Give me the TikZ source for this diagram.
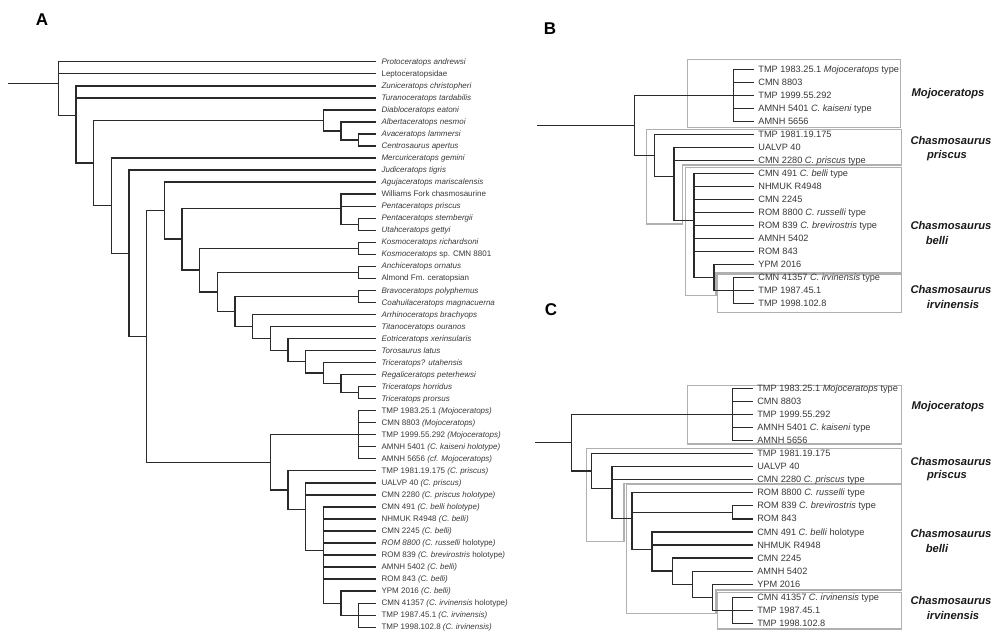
\documentclass[tikz,border=0pt]{standalone}
\usepackage{fontspec}
\setmainfont{Liberation Sans}
\usetikzlibrary{calc}
\definecolor{ink}{HTML}{2A2A2A}
\definecolor{txt}{HTML}{383838}
\definecolor{boxc}{HTML}{B0B0B0}
\newcommand\clade[3]{%
  \gdef\bary{}%
  \foreach \ch [count=\n] in {#3}{\ifnum\n=1 \xdef\bary{\ch=1}\else\xdef\bary{\bary,\ch=1}\fi}%
  \edef\tmpcmd{\noexpand\coordinate (tmp) at (barycentric cs:\bary);}%
  \tmpcmd
  \coordinate (#1) at (#2 |- tmp);
  \foreach \ch in {#3}{\draw[br] (#1) |- (\ch);}%
}
\begin{document}
\begin{tikzpicture}[x=1pt,y=-1pt,
  br/.style={line width=1.3pt,draw=ink},
  boxline/.style={line width=1.15pt,draw=boxc},
  tipA/.style={anchor=west,inner sep=0pt,xshift=5pt,font=\fontsize{8}{9}\selectfont,text=txt,text height=6.3pt,text depth=1pt},
  tipB/.style={anchor=west,inner sep=0pt,xshift=4.5pt,font=\fontsize{9.2}{10}\selectfont,text=txt,text height=7.2pt,text depth=1.1pt},
  cladelab/.style={inner sep=0pt,font=\fontsize{11.2}{12}\selectfont\bfseries\itshape,text=black!90},
  panel/.style={inner sep=0pt,font=\fontsize{17}{17}\selectfont\bfseries}]
\useasboundingbox (0,0) rectangle (1000,640);

% panel letters
\node[panel] (PA) at (42,20) {A};
\node[panel] (PB) at (550,29) {B};
\node[panel] (PC) at (551,310) {C};

% ---------- level coordinates ----------
\foreach \k in {0,...,18} \coordinate (xA\k) at ({58.3+17.67*\k},0);
\foreach \k in {0,...,6} \coordinate (xB\k) at ({634.3+19.9*\k},0);
\foreach \k in {0,...,9} \coordinate (xC\k) at ({571.7+20.1*\k},0);

% ---------- boxes (B) ----------
\draw[boxline] (687.3,59.3) rectangle (900.7,127.7);
\draw[boxline] (646.7,129.3) -- (901.7,129.3) -- (901.7,165) -- (682.3,165) -- (682.3,224) -- (646.7,224) -- cycle;
\draw[boxline] (685.7,167.3) -- (901.7,167.3) -- (901.7,272.3) -- (716,272.3) -- (716,295.7) -- (685.7,295.7) -- cycle;
\draw[boxline] (717.7,274) rectangle (901.7,312.3);
% ---------- boxes (C) ----------
\draw[boxline] (687.3,385.7) rectangle (901.7,444);
\draw[boxline] (586.7,448.3) -- (901.7,448.3) -- (901.7,483.3) -- (624,483.3) -- (624,541.7) -- (586.7,541.7) -- cycle;
\draw[boxline] (626.7,484.7) -- (901.7,484.7) -- (901.7,590) -- (716,590) -- (716,613.3) -- (626.7,613.3) -- cycle;
\draw[boxline] (717.7,592.3) rectangle (901.7,629);

% ---------- panel A tips ----------
\foreach \i/\t in {1/\textit{Protoceratops andrewsi},
 2/Leptoceratopsidae,
 3/\textit{Zuniceratops christopheri},
 4/\textit{Turanoceratops tardabilis},
 5/\textit{Diabloceratops eatoni},
 6/\textit{Albertaceratops nesmoi},
 7/\textit{Avaceratops lammersi},
 8/\textit{Centrosaurus apertus},
 9/\textit{Mercuriceratops gemini},
 10/\textit{Judiceratops tigris},
 11/\textit{Agujaceratops mariscalensis},
 12/Williams Fork chasmosaurine,
 13/\textit{Pentaceratops priscus},
 14/\textit{Pentaceratops sternbergii},
 15/\textit{Utahceratops gettyi},
 16/\textit{Kosmoceratops richardsoni},
 17/\textit{Kosmoceratops} sp. CMN 8801,
 18/\textit{Anchiceratops ornatus},
 19/Almond Fm. ceratopsian,
 20/\textit{Bravoceratops polyphemus},
 21/\textit{Coahuilaceratops magnacuerna},
 22/\textit{Arrhinoceratops brachyops},
 23/\textit{Titanoceratops ouranos},
 24/\textit{Eotriceratops xerinsularis},
 25/\textit{Torosaurus latus},
 26/\textit{Triceratops? utahensis},
 27/\textit{Regaliceratops peterhewsi},
 28/\textit{Triceratops horridus},
 29/\textit{Triceratops prorsus},
 30/TMP 1983.25.1 \textit{(Mojoceratops)},
 31/CMN 8803 \textit{(Mojoceratops)},
 32/TMP 1999.55.292 \textit{(Mojoceratops)},
 33/AMNH 5401 \textit{(C. kaiseni holotype)},
 34/AMNH 5656 \textit{(cf. Mojoceratops)},
 35/TMP 1981.19.175 \textit{(C. priscus)},
 36/UALVP 40 \textit{(C. priscus)},
 37/CMN 2280 \textit{(C. priscus holotype)},
 38/CMN 491 \textit{(C. belli holotype)},
 39/NHMUK R4948 \textit{(C. belli)},
 40/CMN 2245 \textit{(C. belli)},
 41/\textit{ROM 8800 (C. russelli} holotype\textit{)},
 42/ROM 839 \textit{(C. brevirostris} holotype\textit{)},
 43/AMNH 5402 \textit{(C. belli)},
 44/ROM 843 \textit{(C. belli)},
 45/YPM 2016 \textit{(C. belli)},
 46/CMN 41357 \textit{(C. irvinensis} holotype\textit{)},
 47/TMP 1987.45.1 \textit{(C. irvinensis)},
 48/TMP 1998.102.8 \textit{(C. irvinensis)}}{
  \coordinate (tA\i) at ({58.3+17.67*18},{61.8+12.03*(\i-1)});
  \node[tipA] (lA\i) at (tA\i) {\t};
}

% ---------- panel A tree ----------
\clade{aC17}{xA17}{tA7,tA8}
\clade{aC16}{xA16}{tA6,aC17}
\clade{aCen}{xA15}{tA5,aC16}
\clade{aP17}{xA17}{tA14,tA15}
\clade{aP16}{xA16}{tA12,tA13,aP17}
\clade{aK17}{xA17}{tA16,tA17}
\clade{aA17}{xA17}{tA18,tA19}
\clade{aB17}{xA17}{tA20,tA21}
\clade{aT17}{xA17}{tA28,tA29}
\clade{aT16}{xA16}{tA27,aT17}
\clade{aT15}{xA15}{tA26,aT16}
\clade{aT14}{xA14}{tA25,aT15}
\clade{aT13}{xA13}{tA24,aT14}
\clade{aT12}{xA12}{tA23,aT13}
\clade{aT11}{xA11}{tA22,aT12}
\clade{aT10}{xA10}{aB17,aT11}
\clade{aT9}{xA9}{aA17,aT10}
\clade{aT8}{xA8}{aK17,aT9}
\clade{aT7}{xA7}{aP16,aT8}
\clade{aT6}{xA6}{tA11,aT7}
\clade{aM17}{xA17}{tA30,tA31,tA32,tA33,tA34}
\clade{aQ17}{xA17}{tA46,tA47,tA48}
\clade{aQ16}{xA16}{tA45,aQ17}
\clade{aQ15}{xA15}{tA38,tA39,tA40,tA41,tA42,tA43,tA44,aQ16}
\clade{aQ14}{xA14}{tA36,tA37,aQ15}
\clade{aQ13}{xA13}{tA35,aQ14}
\clade{aCh}{xA12}{aM17,aQ13}
\clade{aT5}{xA5}{aT6,aCh}
\clade{aT4}{xA4}{tA10,aT5}
\clade{aT3}{xA3}{tA9,aT4}
\clade{aT2}{xA2}{aCen,aT3}
\clade{aT1}{xA1}{tA3,tA4,aT2}
\clade{aR}{xA0}{tA1,tA2,aT1}
\coordinate (aRx) at (8,0);
\coordinate (aRoot) at (aRx |- aR);
\draw[br] (aRoot) -- (aR);

% ---------- panel B tips ----------
\foreach \i/\t in {1/TMP 1983.25.1 \textit{Mojoceratops} type,
 2/CMN 8803,
 3/TMP 1999.55.292,
 4/AMNH 5401 \textit{C. kaiseni} type,
 5/AMNH 5656,
 6/TMP 1981.19.175,
 7/UALVP 40,
 8/CMN 2280 \textit{C. priscus} type,
 9/CMN 491 \textit{C. belli} type,
 10/NHMUK R4948,
 11/CMN 2245,
 12/ROM 8800 \textit{C. russelli} type,
 13/ROM 839 \textit{C. brevirostris} type,
 14/AMNH 5402,
 15/ROM 843,
 16/YPM 2016,
 17/CMN 41357 \textit{C. irvinensis} type,
 18/TMP 1987.45.1,
 19/TMP 1998.102.8}{
  \coordinate (tB\i) at ({634.3+19.9*6},{69.3+13.02*(\i-1)});
  \node[tipB] (lB\i) at (tB\i) {\t};
}
\clade{bM}{xB5}{tB1,tB2,tB3,tB4,tB5}
\clade{bQ5}{xB5}{tB17,tB18,tB19}
\clade{bQ4}{xB4}{tB16,bQ5}
\clade{bQ3}{xB3}{tB9,tB10,tB11,tB12,tB13,tB14,tB15,bQ4}
\clade{bQ2}{xB2}{tB7,tB8,bQ3}
\clade{bQ1}{xB1}{tB6,bQ2}
\clade{bR}{xB0}{bM,bQ1}
\coordinate (bRx) at (537.3,0);
\coordinate (bRoot) at (bRx |- bR);
\draw[br] (bRoot) -- (bR);

% ---------- panel C tips ----------
\foreach \i/\t in {1/TMP 1983.25.1 \textit{Mojoceratops} type,
 2/CMN 8803,
 3/TMP 1999.55.292,
 4/AMNH 5401 \textit{C. kaiseni} type,
 5/AMNH 5656,
 6/TMP 1981.19.175,
 7/UALVP 40,
 8/CMN 2280 \textit{C. priscus} type,
 9/ROM 8800 \textit{C. russelli} type,
 10/ROM 839 \textit{C. brevirostris} type,
 11/ROM 843,
 12/CMN 491 \textit{C. belli} holotype,
 13/NHMUK R4948,
 14/CMN 2245,
 15/AMNH 5402,
 16/YPM 2016,
 17/CMN 41357 \textit{C. irvinensis} type,
 18/TMP 1987.45.1,
 19/TMP 1998.102.8}{
  \coordinate (tC\i) at ({571.7+20.1*9},{388.3+13.06*(\i-1)});
  \node[tipB] (lC\i) at (tC\i) {\t};
}
\clade{cM}{xC8}{tC1,tC2,tC3,tC4,tC5}
\clade{cQ8}{xC8}{tC17,tC18,tC19}
\clade{cQ7}{xC7}{tC16,cQ8}
\clade{cQ6}{xC6}{tC15,cQ7}
\clade{cQ5}{xC5}{tC14,cQ6}
\clade{cQ4}{xC4}{tC12,tC13,cQ5}
\clade{cB8}{xC8}{tC10,tC11}
\clade{cQ3}{xC3}{tC9,cB8,cQ4}
\clade{cQ2}{xC2}{tC7,tC8,cQ3}
\clade{cQ1}{xC1}{tC6,cQ2}
\clade{cR}{xC0}{cM,cQ1}
\coordinate (cRx) at (535,0);
\coordinate (cRoot) at (cRx |- cR);
\draw[br] (cRoot) -- (cR);

% ---------- clade labels ----------
\node[cladelab] (bLm) at (948,94) {Mojoceratops};
\node[cladelab] (bLp1) at (951,140) {Chasmosaurus};
\node[cladelab] (bLp2) at (947,156) {priscus};
\node[cladelab] (bLb1) at (951,225) {Chasmosaurus};
\node[cladelab] (bLb2) at (937,240) {belli};
\node[cladelab] (bLi1) at (951,289) {Chasmosaurus};
\node[cladelab] (bLi2) at (953,304) {irvinensis};
\node[cladelab] (cLm) at (948,407) {Mojoceratops};
\node[cladelab] (cLp1) at (951,461) {Chasmosaurus};
\node[cladelab] (cLp2) at (947,476) {priscus};
\node[cladelab] (cLb1) at (951,533) {Chasmosaurus};
\node[cladelab] (cLb2) at (937,548) {belli};
\node[cladelab] (cLi1) at (951,600) {Chasmosaurus};
\node[cladelab] (cLi2) at (953,615) {irvinensis};
\end{tikzpicture}
\end{document}
